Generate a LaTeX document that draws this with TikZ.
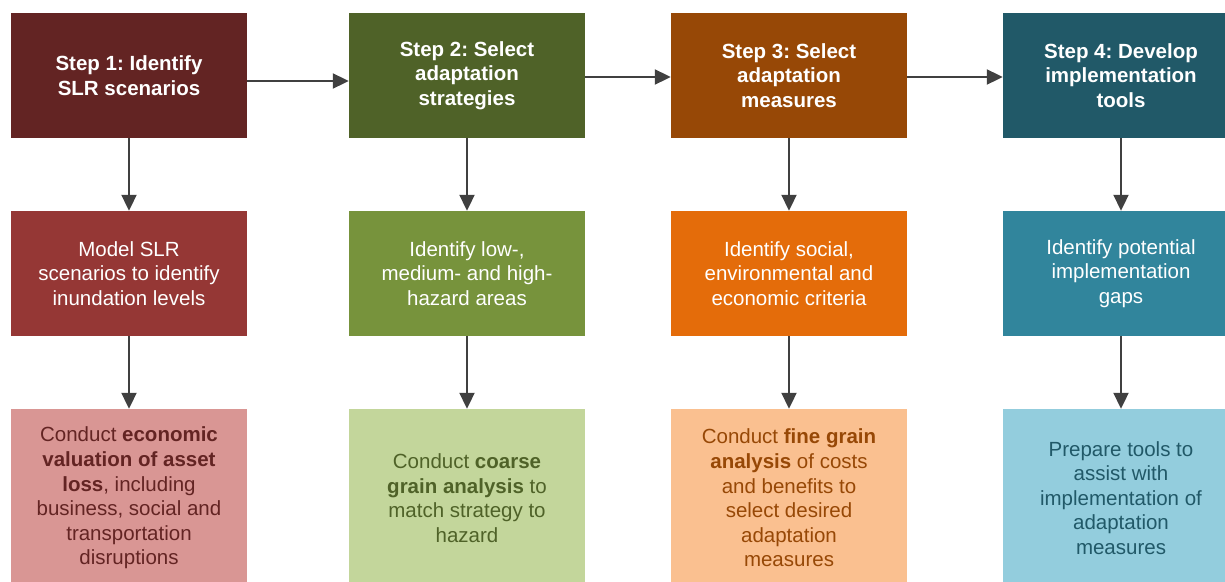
\documentclass[tikz,border=0pt]{standalone}
\usepackage{fontspec}
\setmainfont{Liberation Sans}
\usetikzlibrary{arrows.meta}
\frenchspacing

% step colours
\definecolor{redA}{HTML}{632423}
\definecolor{redB}{HTML}{953735}
\definecolor{redC}{HTML}{D99694}
\definecolor{greenA}{HTML}{4F6228}
\definecolor{greenB}{HTML}{77933C}
\definecolor{greenC}{HTML}{C3D69B}
\definecolor{orangeA}{HTML}{974806}
\definecolor{orangeB}{HTML}{E46C0A}
\definecolor{orangeC}{HTML}{FAC090}
\definecolor{blueA}{HTML}{215968}
\definecolor{blueB}{HTML}{31859C}
\definecolor{blueC}{HTML}{93CDDD}
\definecolor{arrowgray}{HTML}{404040}

\tikzset{
  box/.style={rectangle, minimum width=236pt, minimum height=125pt, inner sep=0pt,
    align=center, font=\fontsize{20.5}{24.6}\selectfont},
  stepbox/.style={box, text=white, font=\fontsize{20.5}{24.6}\selectfont\bfseries},
  taskbox/.style={box, text=white},
  workbox/.style={box, minimum height=178pt},
  flow/.style={arrowgray, line width=2pt, -{Triangle[length=16pt,width=15pt]}}
}

\begin{document}
\begin{tikzpicture}[x=1pt,y=-1pt]
                \useasboundingbox (0,0) rectangle (1225,581);
                \clip (0,0) rectangle (1225,581);
                % Steps
                \node[stepbox, fill=redA] (s1) at (129,75.5) {Step 1: Identify\\SLR scenarios};
                \node[stepbox, fill=greenA] (s2) at (467,75.5) {Step 2: Select\\adaptation\\strategies};
                \node[stepbox, fill=orangeA] (s3) at (789,75.5) {Step 3: Select\\adaptation\\measures};
                \node[stepbox, fill=blueA] (s4) at (1121,75.5) {Step 4: Develop\\implementation\\tools};

                % Identify tasks
                \node[taskbox, fill=redB] (m1) at (129,273.5) {Model SLR\\scenarios to identify\\inundation levels};
                \node[taskbox, fill=greenB] (m2) at (467,273.5) {Identify low-,\\medium- and high-\\hazard areas};
                \node[taskbox, fill=orangeB] (m3) at (789,273.5) {Identify social,\\environmental and\\economic criteria};
                \node[taskbox, fill=blueB] (m4) at (1121,273.5) {Identify potential\\implementation\\gaps};

                % Analysis tasks
                \node[workbox, fill=redC, text=redA] (w1) at (129,498)
                  {Conduct \textbf{economic}\\\textbf{valuation of asset}\\\textbf{loss}, including\\business, social and\\transportation\\disruptions};
                \node[workbox, fill=greenC, text=greenA] (w2) at (467,498)
                  {Conduct \textbf{coarse}\\\textbf{grain analysis} to\\match strategy to\\hazard};
                \node[workbox, fill=orangeC, text=orangeA] (w3) at (789,498)
                  {Conduct \textbf{fine grain}\\\textbf{analysis} of costs\\and benefits to\\select desired\\adaptation\\measures};
                \node[workbox, fill=blueC, text=blueA] (w4) at (1121,498)
                  {Prepare tools to\\assist with\\implementation of\\adaptation\\measures};

                % step to step
                \draw[flow] ([yshift=-5.5pt]s1.east) -- ([yshift=-5.5pt]s2.west);
                \draw[flow] ([yshift=-1.5pt]s2.east) -- ([yshift=-1.5pt]s3.west);
                \draw[flow] ([yshift=-1.5pt]s3.east) -- ([yshift=-1.5pt]s4.west);
                % down the columns
                \foreach \i in {1,2,3,4} {
                  \draw[flow] (s\i.south) -- (m\i.north);
                  \draw[flow] (m\i.south) -- (w\i.north);
                }
\end{tikzpicture}
\end{document}
